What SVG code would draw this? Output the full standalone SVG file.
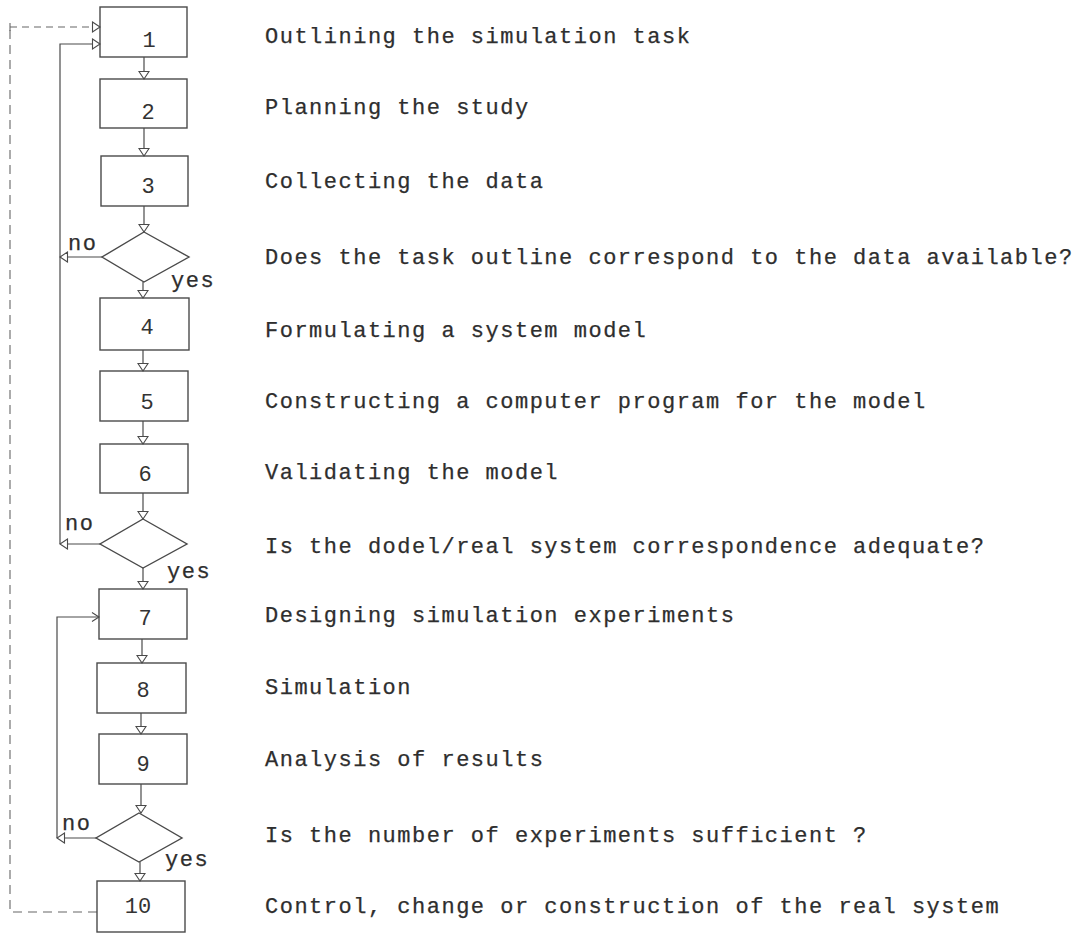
<svg xmlns="http://www.w3.org/2000/svg" width="1087" height="933" viewBox="0 0 1087 933">
<style>
.bx{fill:none;stroke:#4a4a4a;stroke-width:1.4}
.ln{fill:none;stroke:#4a4a4a;stroke-width:1.2}
.ds{fill:none;stroke:#666;stroke-width:1.1}
.t{font-family:"Liberation Mono","DejaVu Sans Mono",monospace;font-size:22px;letter-spacing:1.5px;fill:#2e2e2e;stroke:#2e2e2e;stroke-width:0.25}
.n{font-family:"Liberation Mono","DejaVu Sans Mono",monospace;font-size:22px;fill:#333;text-anchor:middle}
</style>
<defs>
<marker id="tri" markerUnits="userSpaceOnUse" markerWidth="10" markerHeight="13" viewBox="0 0 10 13" refX="9" refY="6.5" orient="auto">
<path d="M1.5,1.5 L9,6.5 L1.5,11.5 Z" fill="#fff" stroke="#4a4a4a" stroke-width="1.1"/>
</marker>
<marker id="chev" markerUnits="userSpaceOnUse" markerWidth="10" markerHeight="12" viewBox="0 0 10 12" refX="9" refY="6" orient="auto">
<path d="M2,1.5 L9,6 L2,10.5" fill="none" stroke="#4a4a4a" stroke-width="1.1"/>
</marker>
</defs>
<rect width="1087" height="933" fill="#fff"/>

<g id="connectors">
<line class="ln" x1="144" y1="57" x2="144" y2="79" marker-end="url(#tri)"/>
<line class="ln" x1="144" y1="128" x2="144" y2="156" marker-end="url(#tri)"/>
<line class="ln" x1="144" y1="206" x2="144" y2="232" marker-end="url(#tri)"/>
<line class="ln" x1="143" y1="282" x2="143" y2="298" marker-end="url(#tri)"/>
<line class="ln" x1="143" y1="350" x2="143" y2="371" marker-end="url(#tri)"/>
<line class="ln" x1="143" y1="421" x2="143" y2="444" marker-end="url(#tri)"/>
<line class="ln" x1="143" y1="493" x2="143" y2="519" marker-end="url(#tri)"/>
<line class="ln" x1="143" y1="568" x2="143" y2="589" marker-end="url(#tri)"/>
<line class="ln" x1="142" y1="639" x2="142" y2="663" marker-end="url(#tri)"/>
<line class="ln" x1="141" y1="713" x2="141" y2="734" marker-end="url(#tri)"/>
<line class="ln" x1="141" y1="784" x2="141" y2="813" marker-end="url(#tri)"/>
<line class="ln" x1="140" y1="862" x2="140" y2="881" marker-end="url(#tri)"/>
<line class="ln" x1="102" y1="257" x2="60" y2="257" marker-end="url(#tri)"/>
<line class="ln" x1="100" y1="544" x2="60" y2="544" marker-end="url(#tri)"/>
<line class="ln" x1="96" y1="838" x2="57" y2="838" marker-end="url(#tri)"/>
<polyline class="ln" points="60,544 60,44 100,44" marker-end="url(#tri)"/>
<polyline class="ln" points="57,838 57,617 99,617" marker-end="url(#chev)"/>
<polyline class="ds" points="97,912 10,912 10,27" stroke-dasharray="9,6"/>
<line class="ds" x1="10" y1="27" x2="100" y2="27" stroke-dasharray="7,5" marker-end="url(#tri)"/>
<line class="ds" x1="10" y1="23" x2="10" y2="31"/>
</g>

<g id="n1"><rect class="bx" x="100" y="7" width="87" height="50"/><text class="n" x="149" y="47">1</text></g>
<g id="n2"><rect class="bx" x="100" y="79" width="87" height="49"/><text class="n" x="148" y="119">2</text></g>
<g id="n3"><rect class="bx" x="101" y="156" width="87" height="50"/><text class="n" x="148" y="193">3</text></g>
<g id="d1"><polygon class="bx" points="144,232 189,257 144,282 102,257"/><text class="t" x="68" y="250">no</text><text class="t" x="171" y="287">yes</text></g>
<g id="n4"><rect class="bx" x="100" y="298" width="89" height="52"/><text class="n" x="147" y="334">4</text></g>
<g id="n5"><rect class="bx" x="100" y="371" width="88" height="50"/><text class="n" x="147" y="409">5</text></g>
<g id="n6"><rect class="bx" x="100" y="444" width="88" height="49"/><text class="n" x="145" y="481">6</text></g>
<g id="d2"><polygon class="bx" points="143,519 187,544 143,568 100,544"/><text class="t" x="65" y="530">no</text><text class="t" x="167" y="578">yes</text></g>
<g id="n7"><rect class="bx" x="99" y="589" width="88" height="50"/><text class="n" x="145" y="625">7</text></g>
<g id="n8"><rect class="bx" x="97" y="663" width="89" height="50"/><text class="n" x="143" y="697">8</text></g>
<g id="n9"><rect class="bx" x="99" y="734" width="88" height="50"/><text class="n" x="143" y="771">9</text></g>
<g id="d3"><polygon class="bx" points="139,813 182,838 139,862 96,838"/><text class="t" x="62" y="830">no</text><text class="t" x="165" y="866">yes</text></g>
<g id="n10"><rect class="bx" x="97" y="881" width="88" height="51"/><text class="n" x="138" y="913">10</text></g>

<g id="labels">
<text class="t" x="265" y="43">Outlining the simulation task</text>
<text class="t" x="265" y="114">Planning the study</text>
<text class="t" x="265" y="188">Collecting the data</text>
<text class="t" x="265" y="264">Does the task outline correspond to the data available?</text>
<text class="t" x="265" y="337">Formulating a system model</text>
<text class="t" x="265" y="408">Constructing a computer program for the model</text>
<text class="t" x="265" y="479">Validating the model</text>
<text class="t" x="265" y="553">Is the dodel/real system correspondence adequate?</text>
<text class="t" x="265" y="622">Designing simulation experiments</text>
<text class="t" x="265" y="694">Simulation</text>
<text class="t" x="265" y="766">Analysis of results</text>
<text class="t" x="265" y="842">Is the number of experiments sufficient ?</text>
<text class="t" x="265" y="913">Control, change or construction of the real system</text>
</g>
</svg>
